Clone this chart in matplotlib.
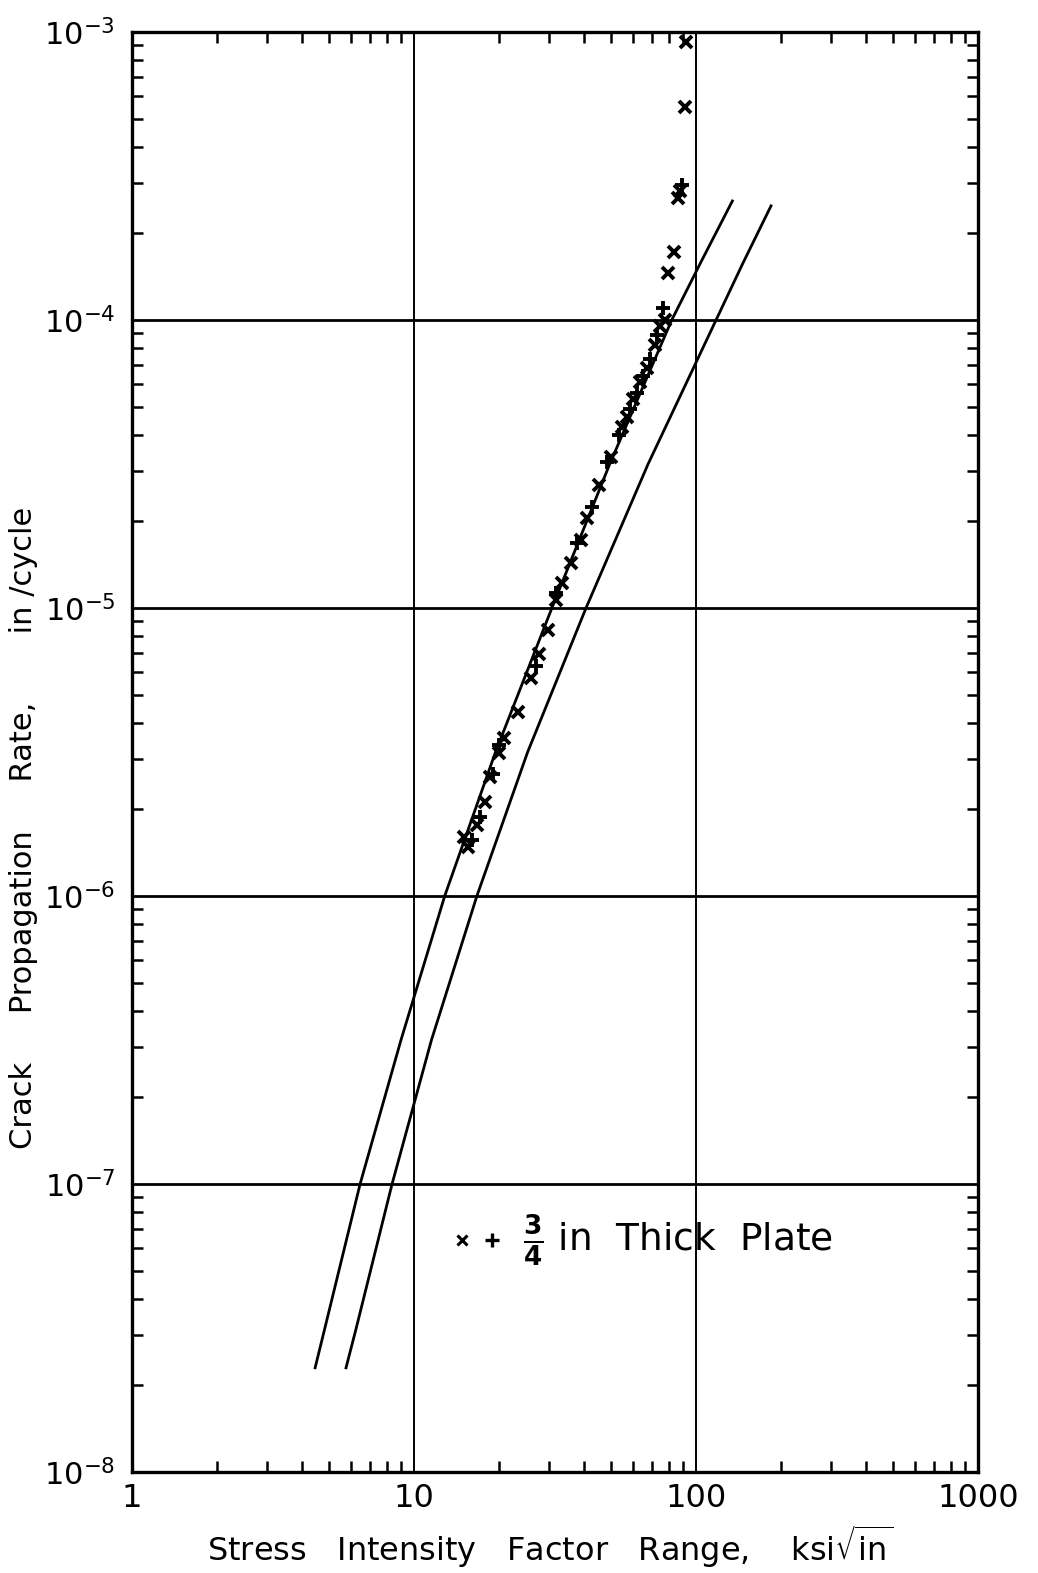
import numpy as np
import matplotlib

matplotlib.use("Agg")
import matplotlib.pyplot as plt
from matplotlib.ticker import LogLocator, NullFormatter, FixedLocator

# scatter data (3/4 in thick plate)
x_cross = [92, 91.4, 88, 86, 83.6, 79.6, 77.6, 74.5, 71.6, 67.0, 63.3, 59.8, 56.9,
           54.7, 50.0, 45.3, 41.1, 39.1, 36.1, 33.5, 31.9, 29.9, 27.8, 26.0, 23.4,
           20.9, 20.0, 18.6, 17.9, 16.7, 15.5, 15.0]
y_cross = [9.2e-4, 5.5e-4, 2.8e-4, 2.65e-4, 1.72e-4, 1.46e-4, 1.0e-4, 9.5e-5, 8.2e-5,
           6.8e-5, 6.1e-5, 5.3e-5, 4.6e-5, 4.25e-5, 3.35e-5, 2.67e-5, 2.05e-5, 1.72e-5,
           1.43e-5, 1.22e-5, 1.07e-5, 8.4e-6, 6.9e-6, 5.7e-6, 4.36e-6, 3.54e-6, 3.14e-6,
           2.59e-6, 2.12e-6, 1.77e-6, 1.48e-6, 1.6e-6]
x_plus = [89, 76.4, 72.7, 68.8, 64.9, 61.8, 58.4, 53.3, 48.3, 42.8, 37.9, 31.9, 27.1,
          20.0, 19.1, 17.2, 16.1]
y_plus = [2.95e-4, 1.10e-4, 8.9e-5, 7.3e-5, 6.4e-5, 5.6e-5, 4.9e-5, 3.99e-5, 3.21e-5,
          2.24e-5, 1.68e-5, 1.13e-5, 6.3e-6, 3.35e-6, 2.65e-6, 1.88e-6, 1.56e-6]

# the two reference curves
curve1_x = [4.46, 4.83, 6.44, 8.99, 12.85, 19.45, 30.83, 49.43, 82.03, 103.8, 134.6]
curve1_y = [2.3e-8, 3.16e-8, 1e-7, 3.16e-7, 1e-6, 3.16e-6, 1e-5, 3.16e-5, 1e-4, 1.58e-4, 2.59e-4]
curve2_x = [5.74, 6.24, 8.36, 11.53, 16.71, 25.29, 40.74, 67.61, 117.8, 146.9, 184.5]
curve2_y = [2.3e-8, 3.16e-8, 1e-7, 3.16e-7, 1e-6, 3.16e-6, 1e-5, 3.16e-5, 1e-4, 1.58e-4, 2.49e-4]

x_ticks = [1, 10, 100, 1000]
x_ticklabels = ["1", "10", "100", "1000"]
y_ticks = [1e-8, 1e-7, 1e-6, 1e-5, 1e-4, 1e-3]
y_ticklabels = ["$10^{-8}$", "$10^{-7}$", "$10^{-6}$", "$10^{-5}$", "$10^{-4}$", "$10^{-3}$"]

plt.rcParams["font.family"] = ["DejaVu Sans"]
plt.rcParams["mathtext.default"] = "regular"

W, H = 1038, 1573
fig = plt.figure(figsize=(W / 100, H / 100), dpi=100)
left, right, top, bottom = 132, 978, 32, 1472
ax = fig.add_axes([left / W, 1 - bottom / H, (right - left) / W, (bottom - top) / H])

ax.set_xscale("log")
ax.set_yscale("log")
ax.set_xlim(1, 1000)
ax.set_ylim(1e-8, 1e-3)

# grid only at interior decades
for xv in [10, 100]:
    ax.axvline(xv, color="k", lw=1.4, zorder=1)
for yv in [1e-7, 1e-6, 1e-5, 1e-4]:
    ax.axhline(yv, color="k", lw=2.0, zorder=1)

ax.plot(curve1_x, curve1_y, color="k", lw=2.0, zorder=3)
ax.plot(curve2_x, curve2_y, color="k", lw=2.0, zorder=3)
ax.plot(x_cross, y_cross, linestyle="none", marker="x", color="k", ms=9, mew=2.8, zorder=4)
ax.plot(x_plus, y_plus, linestyle="none", marker="+", color="k", ms=10, mew=2.8, zorder=4)

# ticks
ax.xaxis.set_major_locator(FixedLocator(x_ticks))
ax.set_xticklabels(x_ticklabels)
ax.yaxis.set_major_locator(FixedLocator(y_ticks))
ax.set_yticklabels(y_ticklabels)
ax.xaxis.set_minor_locator(LogLocator(base=10, subs=np.arange(2, 10), numticks=20))
ax.yaxis.set_minor_locator(LogLocator(base=10, subs=np.arange(2, 10), numticks=20))
ax.xaxis.set_minor_formatter(NullFormatter())
ax.yaxis.set_minor_formatter(NullFormatter())
ax.tick_params(which="major", length=0, labelsize=23, pad=8)
ax.tick_params(axis="y", which="major", labelsize=22, pad=12)
ax.tick_params(which="minor", direction="in", length=8, width=1.8,
               top=True, right=True, bottom=True, left=True)
for sp in ax.spines.values():
    sp.set_linewidth(2.4)

# legend drawn as text with markers
ax.plot([0.390], [0.161], transform=ax.transAxes, marker="x", color="k", ms=7, mew=2.2,
        linestyle="none", clip_on=False)
ax.plot([0.425], [0.161], transform=ax.transAxes, marker="+", color="k", ms=10, mew=2.4,
        linestyle="none", clip_on=False)
ax.text(0.462, 0.161, r"$\frac{\mathbf{3}}{\mathbf{4}}$ in  Thick  Plate",
        transform=ax.transAxes, fontsize=27, va="center", ha="left")

fig.text(24 / W, 1 - 828 / H, "Crack     Propagation     Rate,       in /cycle",
         rotation=90, fontsize=22, ha="center", va="center")
fig.text(550 / W, 1 - 1547 / H, r"Stress   Intensity   Factor   Range,    ksi$\sqrt{in}$",
         fontsize=23, ha="center", va="center")

fig.savefig("out.png", dpi=100)
